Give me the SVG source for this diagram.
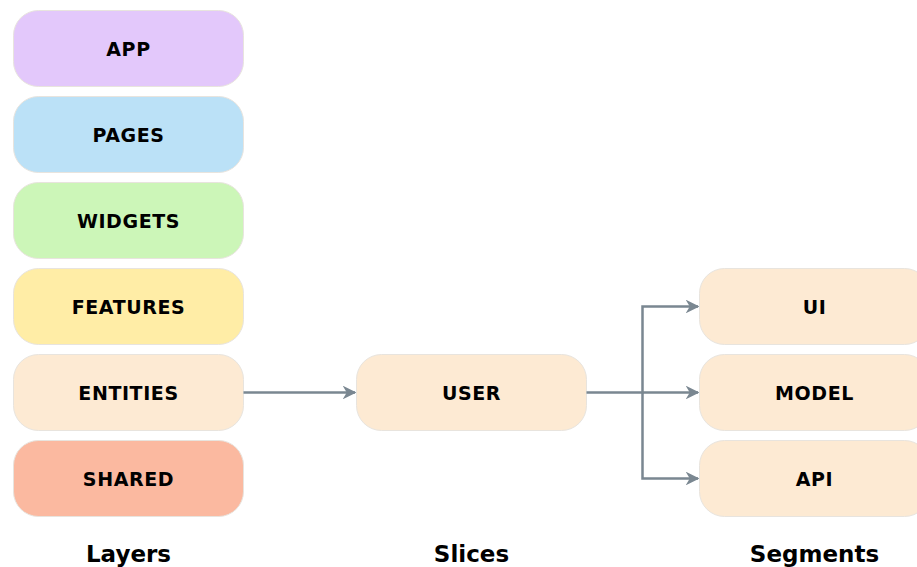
<svg xmlns="http://www.w3.org/2000/svg" width="917" height="567" viewBox="0 0 917 567">
<defs>
<style>
.box{stroke:#e8e4de;stroke-width:1}
.lbl{font-family:"DejaVu Sans","Liberation Sans",sans-serif;font-weight:bold;font-size:19px;letter-spacing:0.6px;fill:#000;text-anchor:middle}
.cap{font-family:"DejaVu Sans","Liberation Sans",sans-serif;font-weight:bold;font-size:23px;fill:#000;text-anchor:middle}
.con{fill:none;stroke:#7a8791;stroke-width:2.5}
</style>
<marker id="arr" viewBox="0 0 10 10" refX="9" refY="5" markerWidth="5.5" markerHeight="5.5" markerUnits="strokeWidth" orient="auto">
<path d="M0,0 L10,5 L0,10 L3,5 Z" fill="#7a8791"/>
</marker>
</defs>
<rect width="917" height="567" fill="#fff"/>
<g id="app"><rect class="box" x="13.5" y="10.5" width="230" height="76" rx="25" fill="#e3c8fb"/><text class="lbl" x="128.5" y="55.5">APP</text></g>
<g id="pages"><rect class="box" x="13.5" y="96.5" width="230" height="76" rx="25" fill="#bbe1f7"/><text class="lbl" x="128.5" y="141.5">PAGES</text></g>
<g id="widgets"><rect class="box" x="13.5" y="182.5" width="230" height="76" rx="25" fill="#ccf6b8"/><text class="lbl" x="128.5" y="227.5">WIDGETS</text></g>
<g id="features"><rect class="box" x="13.5" y="268.5" width="230" height="76" rx="25" fill="#ffeda6"/><text class="lbl" x="128.5" y="313.5">FEATURES</text></g>
<g id="entities"><rect class="box" x="13.5" y="354.5" width="230" height="76" rx="25" fill="#fdead3"/><text class="lbl" x="128.5" y="399.5">ENTITIES</text></g>
<g id="shared"><rect class="box" x="13.5" y="440.5" width="230" height="76" rx="25" fill="#fbb9a0"/><text class="lbl" x="128.5" y="485.5">SHARED</text></g>
<g id="user"><rect class="box" x="356.5" y="354.5" width="230" height="76" rx="25" fill="#fdead3"/><text class="lbl" x="471.5" y="399.5">USER</text></g>
<g id="ui"><rect class="box" x="699.5" y="268.5" width="230" height="76" rx="25" fill="#fdead3"/><text class="lbl" x="814.5" y="313.5">UI</text></g>
<g id="model"><rect class="box" x="699.5" y="354.5" width="230" height="76" rx="25" fill="#fdead3"/><text class="lbl" x="814.5" y="399.5">MODEL</text></g>
<g id="api"><rect class="box" x="699.5" y="440.5" width="230" height="76" rx="25" fill="#fdead3"/><text class="lbl" x="814.5" y="485.5">API</text></g>
<g id="connectors">
<path class="con" d="M243.5,392.5 L355,392.5" marker-end="url(#arr)"/>
<path class="con" d="M586.5,392.5 L642.5,392.5 L642.5,306.5 L698,306.5" marker-end="url(#arr)"/>
<path class="con" d="M642.5,392.5 L698,392.5" marker-end="url(#arr)"/>
<path class="con" d="M642.5,392.5 L642.5,478.5 L698,478.5" marker-end="url(#arr)"/>
</g>
<g id="captions">
<text class="cap" x="128.5" y="562">Layers</text>
<text class="cap" x="471.5" y="562">Slices</text>
<text class="cap" x="814.5" y="562">Segments</text>
</g>
</svg>
